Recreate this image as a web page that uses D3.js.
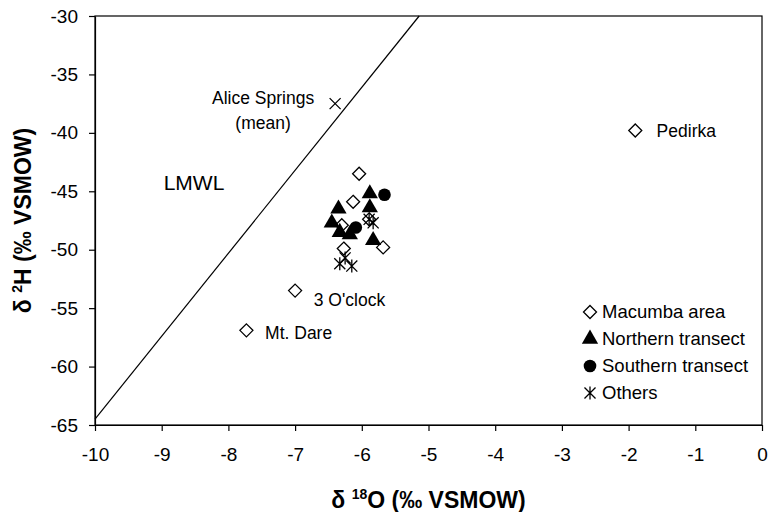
<!DOCTYPE html>
<html>
<head>
  <title>d2H vs d18O</title>
  <style type="text/css">
    body { margin: 0; background: #fff; }
    svg { display: block; }
    text { font-family: "Liberation Sans", Arial, sans-serif; fill: #000; }
  </style>
</head>
<body>

<div id="chart"></div>

<script src="https://d3js.org/d3.v7.min.js"></script>
<script type="text/javascript">
var width = 771;
var height = 512;
var margin = {top: 16, right: 9, bottom: 87, left: 95};

// values: [d18O, d2H]
var macumba = [[-6.04, -43.5], [-6.13, -45.9], [-6.30, -47.9], [-5.89, -47.4], [-5.68, -49.8], [-6.27, -49.9],
               [-1.9, -39.8], [-7.0, -53.5], [-7.73, -56.9]];
var northern = [[-5.88, -45.2], [-6.35, -46.5], [-5.88, -46.4], [-6.45, -47.7], [-6.33, -48.5], [-6.18, -48.7], [-5.83, -49.2]];
var southern = [[-5.66, -45.3], [-6.09, -48.1]];
var others = [[-5.83, -47.7], [-5.89, -47.4], [-6.33, -51.2], [-6.15, -51.4], [-6.25, -50.7]];
var aliceSprings = [[-6.4, -37.5]];
var lmwl = [[-10, -64.5], [-5.14, -30]];

var xTicks = [-10, -9, -8, -7, -6, -5, -4, -3, -2, -1, 0];
var yTicks = [-30, -35, -40, -45, -50, -55, -60, -65];

var labels = [
  {text: "Pedirka", x: -1.58, y: -39.8},
  {text: "3 O'clock", x: -6.72, y: -54.3},
  {text: "Mt. Dare", x: -7.45, y: -57.1},
  {text: "LMWL", x: -8.97, y: -44.3, size: 21},
  {text: "Alice Springs", x: -7.48, y: -37.0, anchor: "middle"},
  {text: "(mean)", x: -7.48, y: -39.15, anchor: "middle"}
];

var legendItems = ["Macumba area", "Northern transect", "Southern transect", "Others"];

var svg = d3.select("#chart")
  .append("svg")
  .attr("width", width)
  .attr("height", height);

var x = d3.scaleLinear()
  .domain([-10, 0])
  .range([margin.left, width - margin.right]);
var y = d3.scaleLinear()
  .domain([-65, -30])
  .range([height - margin.bottom, margin.top]);

function diamond(r) {
  return "M0," + (-r) + "L" + r + ",0L0," + r + "L" + (-r) + ",0Z";
}
function cross(r) {
  return "M" + (-r) + "," + (-r) + "L" + r + "," + r + "M" + (-r) + "," + r + "L" + r + "," + (-r);
}
function star(r) {
  return cross(r * 0.85) + "M0," + (-r) + "L0," + r;
}
var triangle = d3.symbol().type(d3.symbolTriangle).size(115)();
var circle = d3.symbol().type(d3.symbolCircle).size(125)();

var symbols = [
  {d: diamond(6.5), fill: "#fff", stroke: "#000"},
  {d: triangle, fill: "#000", stroke: "none"},
  {d: circle, fill: "#000", stroke: "none"},
  {d: star(6.5), fill: "none", stroke: "#000"}
];

// frame
svg.append("rect")
  .attr("x", margin.left)
  .attr("y", margin.top)
  .attr("width", width - margin.left - margin.right)
  .attr("height", height - margin.top - margin.bottom)
  .attr("fill", "none")
  .attr("stroke", "#000")
  .attr("stroke-width", 1.2);

// axes (plain hyphen minus, as in the original)
var fmt = d => String(d);
var xAxis = svg.append("g")
  .attr("transform", `translate(0,${height - margin.bottom})`)
  .call(d3.axisBottom(x).tickValues(xTicks).tickFormat(fmt).tickSize(6).tickSizeOuter(0).tickPadding(17));
var yAxis = svg.append("g")
  .attr("transform", `translate(${margin.left},0)`)
  .call(d3.axisLeft(y).tickValues(yTicks).tickFormat(fmt).tickSize(6).tickSizeOuter(0).tickPadding(11));

[xAxis, yAxis].forEach(g => {
  g.selectAll("text").style("font-size", "19px").style("font-family", "'Liberation Sans', Arial, sans-serif");
  g.selectAll("line").attr("stroke", "#000").attr("stroke-width", 1.2);
  g.select(".domain").attr("stroke", "#000").attr("stroke-width", 1.2);
});

// LMWL
svg.append("path")
  .datum(lmwl)
  .attr("fill", "none")
  .attr("stroke", "#000")
  .attr("stroke-width", 1.2)
  .attr("d", d3.line().x(d => x(d[0])).y(d => y(d[1])));

// points
var series = [macumba, northern, southern, others];
var plot = svg.append("g");
series.forEach((s, i) => {
  plot.append("g")
    .selectAll("path")
    .data(s)
    .enter()
    .append("path")
    .attr("transform", d => `translate(${x(d[0])},${y(d[1])})`)
    .attr("d", symbols[i].d)
    .attr("fill", symbols[i].fill)
    .attr("stroke", symbols[i].stroke)
    .attr("stroke-width", 1.3);
});

plot.selectAll(".alice")
  .data(aliceSprings)
  .enter()
  .append("path")
  .attr("class", "alice")
  .attr("transform", d => `translate(${x(d[0])},${y(d[1])})`)
  .attr("d", cross(5.5))
  .attr("stroke", "#000")
  .attr("stroke-width", 1.3);

// annotations
svg.append("g")
  .selectAll("text")
  .data(labels)
  .enter()
  .append("text")
  .attr("x", d => x(d.x))
  .attr("y", d => y(d.y))
  .attr("dy", "0.35em")
  .attr("text-anchor", d => d.anchor || "start")
  .style("font-size", d => (d.size || 17.5) + "px")
  .text(d => d.text);

// legend
var legend = svg.append("g")
  .attr("transform", "translate(590,312)");
var rows = legend.selectAll("g")
  .data(legendItems)
  .enter()
  .append("g")
  .attr("transform", (d, i) => `translate(0,${i * 27})`);
rows.append("path")
  .attr("d", (d, i) => symbols[i].d)
  .attr("fill", (d, i) => symbols[i].fill)
  .attr("stroke", (d, i) => symbols[i].stroke)
  .attr("stroke-width", 1.3);
rows.append("text")
  .attr("x", 12)
  .attr("dy", "0.35em")
  .style("font-size", "18.5px")
  .text(d => d);

// axis titles, centred on the plot area
var xTitle = svg.append("text")
  .attr("x", (margin.left + width - margin.right) / 2)
  .attr("y", 508)
  .attr("text-anchor", "middle")
  .style("font-size", "23px")
  .style("font-weight", "bold");
xTitle.append("tspan").text("δ ");
xTitle.append("tspan").attr("dy", -9).style("font-size", "14px").text("18");
xTitle.append("tspan").attr("dy", 9).text("O (‰ VSMOW)");

var yTitle = svg.append("text")
  .attr("transform", `translate(31,${(margin.top + height - margin.bottom) / 2}) rotate(-90)`)
  .attr("text-anchor", "middle")
  .style("font-size", "23px")
  .style("font-weight", "bold");
yTitle.append("tspan").text("δ ");
yTitle.append("tspan").attr("dy", -9).style("font-size", "14px").text("2");
yTitle.append("tspan").attr("dy", 9).text("H (‰ VSMOW)");
</script>
</body>
</html>
